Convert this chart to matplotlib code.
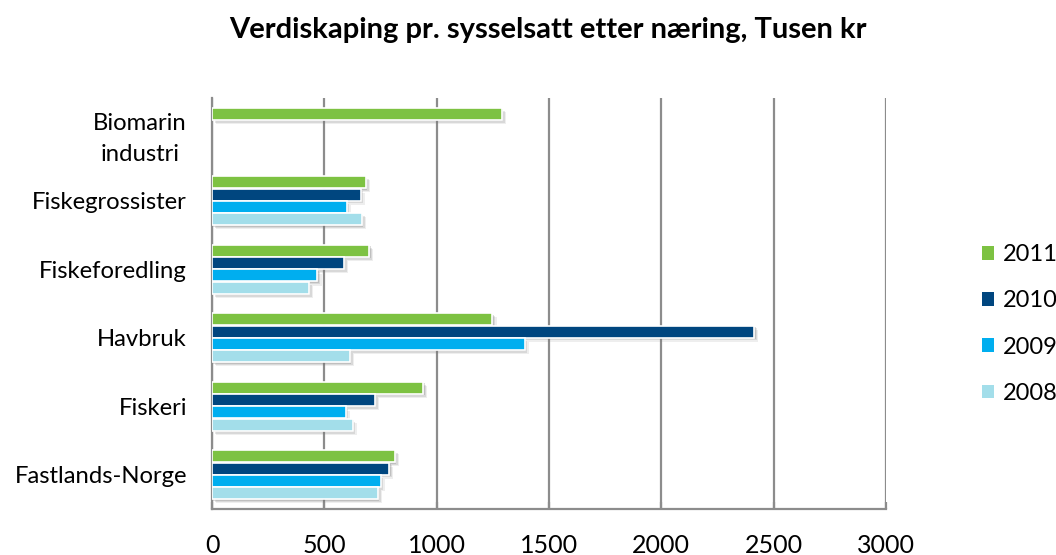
import numpy as np
import matplotlib
matplotlib.use('Agg')
import matplotlib.pyplot as plt
import matplotlib.patheffects as pe
from matplotlib.patches import Patch

# 데이터
categories = ['Fastlands-Norge', 'Fiskeri', 'Havbruk', 'Fiskeforedling',
              'Fiskegrossister', 'Biomarin\nindustri']
v2011 = [814, 940, 1248, 700, 685, 1291]
v2010 = [789, 725, 2413, 587, 661, np.nan]
v2009 = [750, 595, 1391, 469, 599, np.nan]
v2008 = [738, 626, 614, 432, 668, np.nan]
years = ['2011', '2010', '2009', '2008']
colors = ['#7DC242', '#00467F', '#00AEEF', '#A3DEEA']
xticks = [0, 500, 1000, 1500, 2000, 2500, 3000]

plt.rcParams['font.family'] = ['Lato', 'DejaVu Sans']

fig = plt.figure(figsize=(10.56, 5.55), dpi=100)
ax = fig.add_axes([212/1056, 1-509/555, 674/1056, 411/555])

y = np.arange(len(categories))
h = 0.18
offsets = [1.5*h, 0.5*h, -0.5*h, -1.5*h]
# 부드러운 그림자 흉내
shadow = [pe.SimplePatchShadow(offset=(3, -3), shadow_rgbFace='#777777', alpha=0.12),
          pe.SimplePatchShadow(offset=(2, -2), shadow_rgbFace='#777777', alpha=0.18),
          pe.SimplePatchShadow(offset=(1, -1), shadow_rgbFace='#777777', alpha=0.25),
          pe.Normal()]
for vals, off, col in zip([v2011, v2010, v2009, v2008], offsets, colors):
    bars = ax.barh(y + off, vals, height=h*0.97, color=col, edgecolor='white',
                   linewidth=1.2, zorder=3)
    for b in bars:
        b.set_path_effects(shadow)

ax.set_xlim(0, 3000)
ax.set_ylim(-0.5, 5.5)
ax.set_xticks(xticks)
ax.set_xticklabels([str(t) for t in xticks], fontsize=18)
ax.set_yticks(y)
ax.set_yticklabels(categories, fontsize=17.2, linespacing=1.55)
ax.get_yticklabels()[-1].set_multialignment('center')

# 격자와 축
ax.grid(axis='x', color='#8C8C8C', linewidth=1.6, zorder=0)
ax.set_axisbelow(True)
for s in ['top', 'right']:
    ax.spines[s].set_visible(False)
for s in ['left', 'bottom']:
    ax.spines[s].set_color('#8C8C8C')
    ax.spines[s].set_linewidth(1.6)
ax.tick_params(axis='x', direction='in', length=5, width=1.6, color='#8C8C8C', pad=18)
ax.tick_params(axis='y', length=0, pad=18)

# 제목
fig.text(548/1056, 1-30/555, 'Verdiskaping pr. sysselsatt etter næring, Tusen kr',
         ha='center', va='center', fontsize=21, fontweight='bold')

# 범례
handles = [Patch(facecolor=c, edgecolor='none') for c in colors]
fig.legend(handles, years, loc='center left', bbox_to_anchor=(982/1056, 1-324/555),
           frameon=False, fontsize=17, handlelength=0.51, handleheight=0.51,
           handletextpad=0.38, labelspacing=1.07, borderpad=0, borderaxespad=0)

fig.savefig('out.png', dpi=100)
